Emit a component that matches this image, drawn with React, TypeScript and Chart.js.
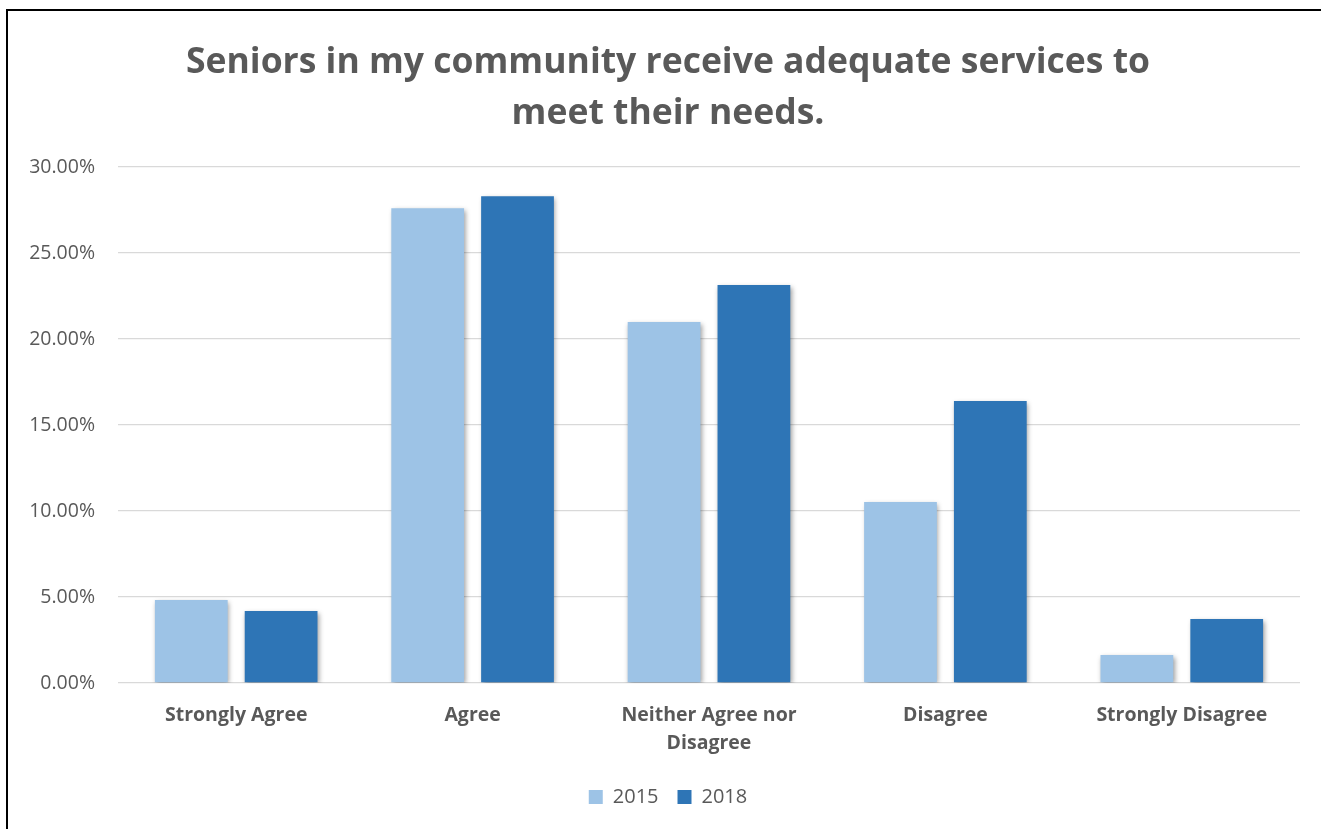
import React, { useEffect, useRef } from "react";
import { Chart, registerables } from "chart.js";

Chart.register(...registerables);

const categories: (string | string[])[] = [
  "Strongly Agree",
  "Agree",
  ["Neither Agree nor", "Disagree"],
  "Disagree",
  "Strongly Disagree",
];
const series2015 = [4.83, 27.6, 20.99, 10.52, 1.63];
const series2018 = [4.19, 28.3, 23.14, 16.4, 3.72];
const yTicks = [0, 5, 10, 15, 20, 25, 30];
const titleLines = [
  "Seniors in my community receive adequate services to",
  "meet their needs.",
];

const FONT = "'Open Sans', 'Noto Sans', sans-serif";
const TEXT = "#595959";

const shadowPlugin = {
  id: "barShadow",
  beforeDatasetsDraw(chart: any) {
    const ctx = chart.ctx;
    ctx.save();
    ctx.shadowColor = "rgba(0,0,0,0.4)";
    ctx.shadowBlur = 5;
    ctx.shadowOffsetX = 1.5;
    ctx.shadowOffsetY = 2;
  },
  afterDatasetsDraw(chart: any) {
    chart.ctx.restore();
  },
};

export default function App() {
  const ref = useRef<HTMLCanvasElement | null>(null);

  useEffect(() => {
    if (!ref.current) return;
    const chart = new Chart(ref.current, {
      type: "bar",
      data: {
        labels: categories,
        datasets: [
          {
            label: "2015",
            data: series2015,
            backgroundColor: "#9DC3E6",
            categoryPercentage: 0.76,
            barPercentage: 0.81,
          },
          {
            label: "2018",
            data: series2018,
            backgroundColor: "#2E75B6",
            categoryPercentage: 0.76,
            barPercentage: 0.81,
          },
        ],
      },
      plugins: [shadowPlugin],
      options: {
        animation: false,
        responsive: false,
        maintainAspectRatio: false,
        layout: { padding: { left: 17, right: 17, top: 0, bottom: 12 } },
        plugins: {
          title: {
            display: true,
            text: titleLines,
            color: TEXT,
            font: { family: FONT, size: 35.5, weight: "bold", lineHeight: 1.45 },
            padding: { top: 26, bottom: 27 },
          },
          legend: {
            position: "bottom",
            labels: {
              boxWidth: 14,
              boxHeight: 14,
              color: TEXT,
              padding: 19,
              font: { family: FONT, size: 20 },
            },
          },
          tooltip: { enabled: false },
        },
        scales: {
          x: {
            grid: { display: false },
            border: { display: false },
            afterFit(axis: any) {
              axis.height = 85;
            },
            ticks: {
              color: TEXT,
              padding: 10,
              maxRotation: 0,
              font: { family: FONT, size: 19.5, weight: "bold", lineHeight: 1.45 },
            },
          },
          y: {
            min: 0,
            max: 30,
            afterBuildTicks(axis: any) {
              axis.ticks = yTicks.map((v) => ({ value: v }));
            },
            afterFit(axis: any) {
              axis.width = 93;
            },
            grid: { color: "#D9D9D9", lineWidth: 1.3, drawTicks: false },
            border: { display: false },
            ticks: {
              color: TEXT,
              padding: 23,
              font: { family: FONT, size: 19.5 },
              callback: (v: any) => Number(v).toFixed(2) + "%",
            },
          },
          yRightSpace: {
            type: "linear",
            position: "right",
            display: true,
            grid: { display: false },
            border: { display: false },
            ticks: { display: false },
            afterFit(axis: any) {
              axis.width = 11;
            },
          },
        },
      },
    });
    return () => chart.destroy();
  }, []);

  return (
    <div
      style={{
        position: "fixed",
        left: 6,
        top: 9,
        width: 1315,
        height: 820,
        overflow: "hidden",
        borderLeft: "2px solid #000",
        borderTop: "2px solid #000",
        background: "#fff",
      }}
    >
      <canvas ref={ref} width={1320} height={818} style={{ display: "block" }} />
    </div>
  );
}
